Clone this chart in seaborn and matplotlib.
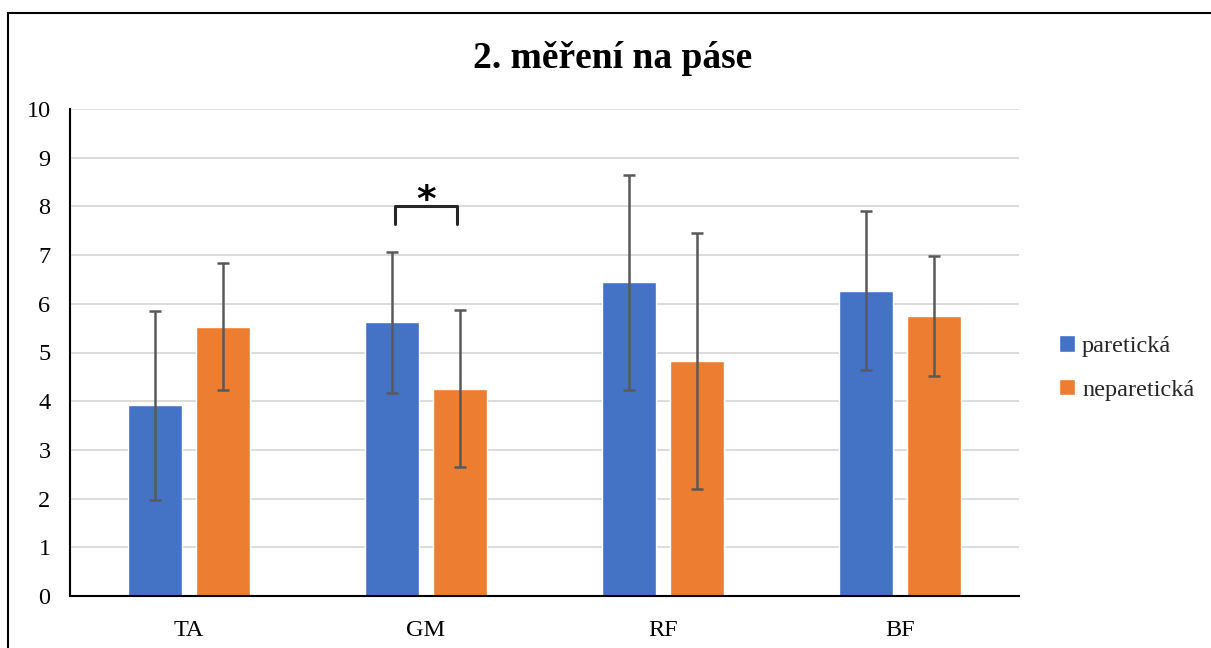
import matplotlib
matplotlib.use("Agg")
import matplotlib.pyplot as plt
import seaborn as sns
import pandas as pd
from matplotlib.patches import Rectangle

categories = ["TA", "GM", "RF", "BF"]
series_names = ["paretická", "neparetická"]
paretic_mean = [3.92, 5.62, 6.44, 6.27]
paretic_sd = [1.94, 1.45, 2.20, 1.63]
nonparetic_mean = [5.53, 4.26, 4.82, 5.75]
nonparetic_sd = [1.31, 1.62, 2.63, 1.23]
y_ticks = [0, 1, 2, 3, 4, 5, 6, 7, 8, 9, 10]
title_text = "2. měření na páse"
signif_category = "GM"
signif_top = 8.0
signif_bottom = 7.64
signif_label = "*"

colors = ["#4472C4", "#ED7D31"]

df = pd.DataFrame({
    "cat": categories * 2,
    "series": [series_names[0]] * 4 + [series_names[1]] * 4,
    "val": paretic_mean + nonparetic_mean,
    "sd": paretic_sd + nonparetic_sd,
})

sns.set_theme(style="white")
plt.rcParams["font.family"] = ["Liberation Serif", "DejaVu Serif"]

fig = plt.figure(figsize=(12.11, 6.48), dpi=100)
ax = fig.add_axes([70 / 1211, 1 - 596 / 648, (1019 - 70) / 1211, (596 - 109) / 648])

sns.barplot(data=df, x="cat", y="val", hue="series", order=categories,
            hue_order=series_names, palette=colors, width=0.573, gap=0.207,
            errorbar=None, ax=ax, saturation=1, legend=True)

# error bars from the bar patches
for cont, sds in zip(ax.containers, [paretic_sd, nonparetic_sd]):
    xs = [p.get_x() + p.get_width() / 2 for p in cont.patches]
    hs = [p.get_height() for p in cont.patches]
    ax.errorbar(xs, hs, yerr=sds, fmt="none", ecolor="#595959",
                elinewidth=1.8, capsize=4.2, capthick=1.8, zorder=4)

ax.set_ylim(0, 10)
ax.set_xlim(-0.5, 3.5)
ax.set_yticks(y_ticks)
ax.yaxis.grid(True, color="#D9D9D9", linewidth=1.3)
ax.set_axisbelow(True)
for s in ["top", "right"]:
    ax.spines[s].set_visible(False)
for s in ["left", "bottom"]:
    ax.spines[s].set_color("black")
    ax.spines[s].set_linewidth(1.5)
ax.set_xlabel("")
ax.set_ylabel("")
ax.tick_params(axis="both", labelsize=17.5, length=0, colors="black")
ax.tick_params(axis="x", pad=17)
ax.tick_params(axis="y", pad=14)

# significance bracket
ci = categories.index(signif_category)
b0 = ax.containers[0].patches[ci]
b1 = ax.containers[1].patches[ci]
x0 = b0.get_x() + b0.get_width() / 2 + 0.012
x1 = b1.get_x() + b1.get_width() / 2 - 0.012
ax.plot([x0, x0, x1, x1], [signif_bottom, signif_top, signif_top, signif_bottom],
        color="#262626", linewidth=2.2, zorder=5, clip_on=False)
ax.text((x0 + x1) / 2, signif_top - 0.26, signif_label, ha="center", va="bottom",
        fontsize=27, fontweight="bold", color="black", family="DejaVu Sans")

# legend
leg = ax.legend(loc="center left", bbox_to_anchor=(1.019, 0.468), frameon=False,
                fontsize=17.5, handlelength=0.65, handleheight=0.65,
                handletextpad=0.3, labelspacing=0.9)

fig.text(613 / 1211, 1 - 58 / 648, title_text, ha="center", va="center",
         fontsize=27, fontweight="bold", color="black")

# outer frame
fig.patches.append(Rectangle((8 / 1211, -0.1), 1.2, 1 - 13 / 648 + 0.1,
                             transform=fig.transFigure, fill=False,
                             edgecolor="black", linewidth=1.5))

fig.savefig("out.png", dpi=100)
